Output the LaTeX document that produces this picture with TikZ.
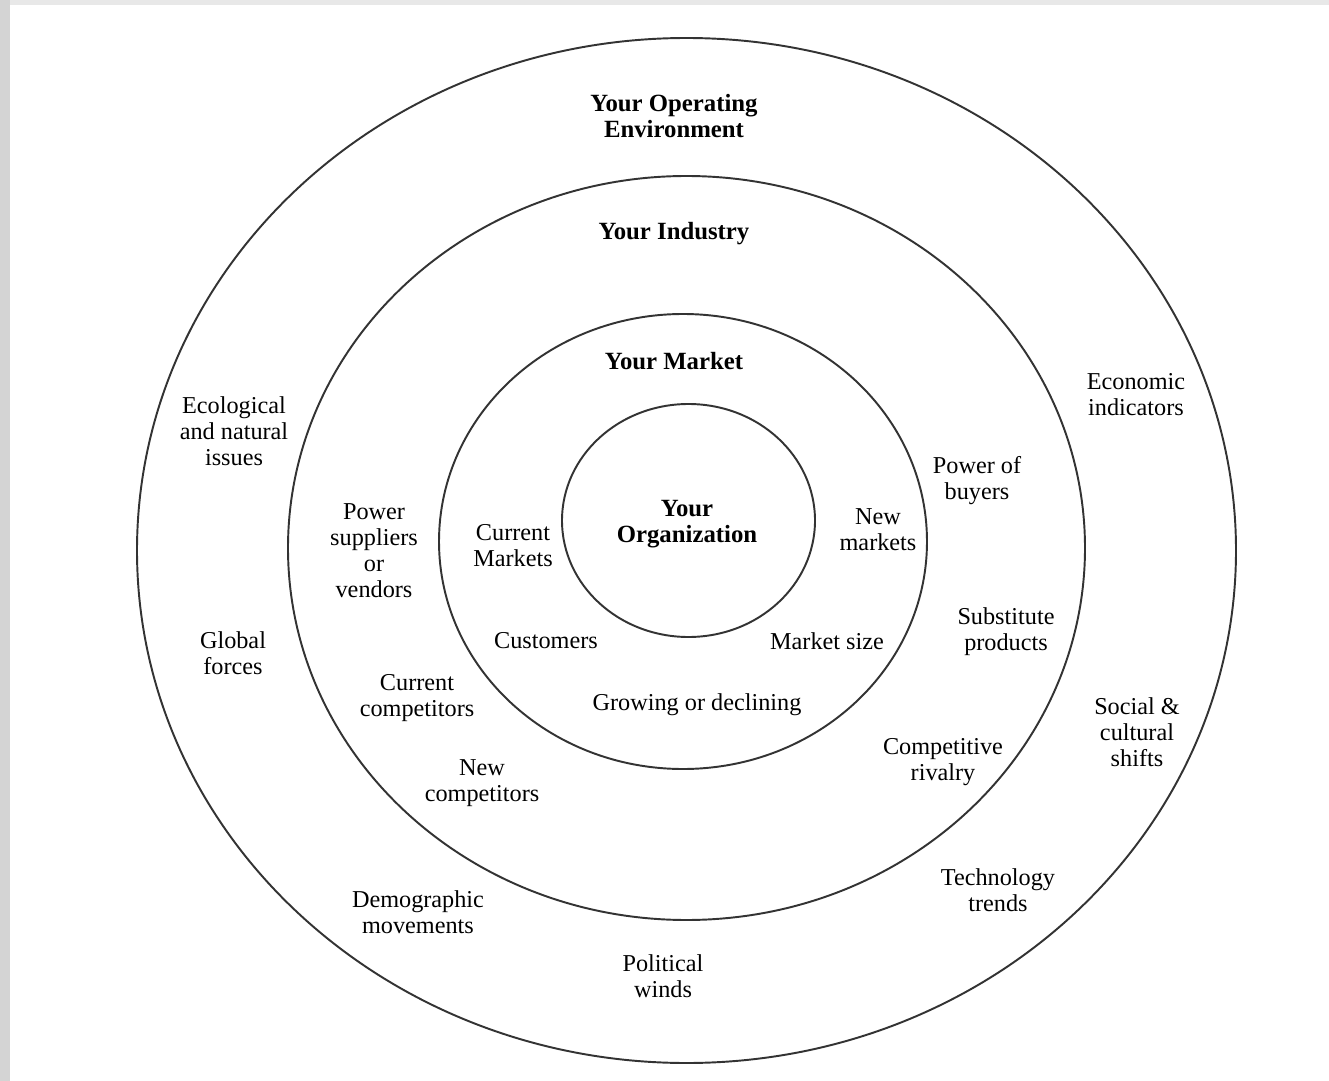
\documentclass[tikz,border=0pt]{standalone}
\usepackage{fontspec}
\setmainfont{Liberation Serif}
\begin{document}
\begin{tikzpicture}[x=0.02cm,y=-0.02cm,
  ring/.style={draw=black!80,line width=1.1pt},
  lbl/.style={align=center,inner sep=0pt,font=\fontsize{13.8}{14.8}\selectfont},
  head/.style={lbl,font=\fontsize{14.1}{14.8}\selectfont\bfseries}]
% page and frame strips
\useasboundingbox (0,0) rectangle (1329,1081);
\fill[white] (0,0) rectangle (1329,1081);
\fill[black!9] (0,0) rectangle (1329,5);
\fill[black!17] (0,0) rectangle (10,1081);

% nested rings
\draw[ring] (686.5,550.5) ellipse [x radius=549.5, y radius=512.5];
\draw[ring] (686.5,548) ellipse [x radius=398.5, y radius=372];
\draw[ring] (683,541.5) ellipse [x radius=244, y radius=227.5];
\draw[ring] (688.5,520.5) ellipse [x radius=126.5, y radius=116.5];

% ring headings
\node[head] (env) at (674,116) {Your Operating\\Environment};
\node[head] (ind) at (674,234) {Your Industry};
\node[head] (mkt) at (674,361) {Your Market};
\node[head] (org) at (687,524) {Your\\Organization};

% operating environment
\node[lbl] (eco) at (234,431) {Ecological\\and natural\\issues};
\node[lbl] (glob) at (233,653) {Global\\forces};
\node[lbl] (demo) at (418,912) {Demographic\\movements};
\node[lbl] (pol) at (663,976) {Political\\winds};
\node[lbl] (tech) at (998,890) {Technology\\trends};
\node[lbl] (soc) at (1137,732) {Social \&\\cultural\\shifts};
\node[lbl] (econ) at (1136,395) {Economic\\indicators};

% industry
\node[lbl] (supp) at (374,551) {Power\\suppliers\\or\\vendors};
\node[lbl] (ccomp) at (417,698) {Current\\competitors};
\node[lbl] (ncomp) at (482,783) {New\\competitors};
\node[lbl] (rival) at (943,762) {Competitive\\rivalry};
\node[lbl] (subst) at (1006,632) {Substitute\\products};
\node[lbl] (buy) at (977,481) {Power of\\buyers};

% market
\node[lbl] (cmkt) at (513,546) {Current\\Markets};
\node[lbl] (cust) at (546,641) {Customers};
\node[lbl] (grow) at (697,705) {Growing or declining};
\node[lbl] (size) at (827,641) {Market size};
\node[lbl] (nmkt) at (878,530) {New\\markets};
\end{tikzpicture}
\end{document}
